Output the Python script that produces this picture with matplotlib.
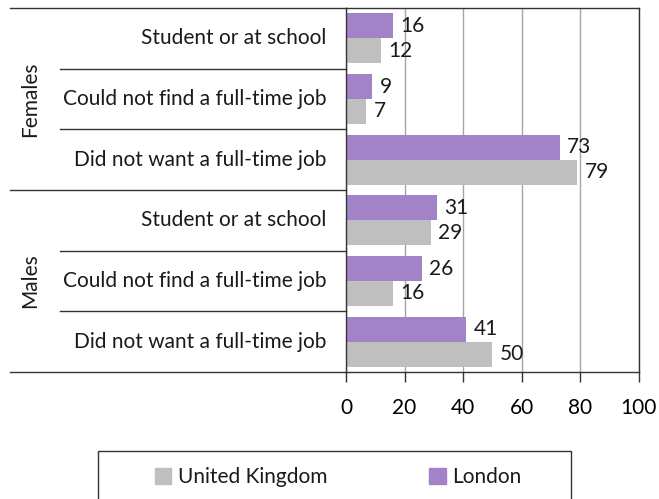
import matplotlib
matplotlib.use("Agg")
import matplotlib.pyplot as plt
import matplotlib.transforms as mtransforms
from matplotlib.patches import Patch, Rectangle
import numpy as np

plt.rcParams["font.family"] = ["Lato", "DejaVu Sans"]
plt.rcParams["text.color"] = "#1a1a1a"

# Data (top to bottom)
groups = ["Females", "Males"]
categories = [
    "Student or at school",
    "Could not find a full-time job",
    "Did not want a full-time job",
]
london = [16, 9, 73, 31, 26, 41]
uk = [12, 7, 79, 29, 16, 50]
x_ticks = [0, 20, 40, 60, 80, 100]

purple = "#a283c7"
grey = "#bfbfbf"
fs = 15

fig = plt.figure(figsize=(6.59, 4.99), dpi=100)
ax = fig.add_axes([0.525, 0.2545, 0.4445, 0.7295])

labels = categories * len(groups)
y = np.arange(len(labels))
h = 0.41
ax.barh(y - h / 2, london, height=h, color=purple)
ax.barh(y + h / 2, uk, height=h, color=grey)

for yi, v in zip(y, london):
    ax.text(v + 2.5, yi - h / 2, str(v), va="center", ha="left", fontsize=fs)
for yi, v in zip(y, uk):
    ax.text(v + 2.5, yi + h / 2, str(v), va="center", ha="left", fontsize=fs)

ax.set_xlim(0, 100)
ax.set_ylim(len(labels) - 0.5, -0.5)
ax.set_xticks(x_ticks)
ax.set_xticklabels([str(t) for t in x_ticks], fontsize=fs)
ax.tick_params(axis="x", direction="out", length=7, width=1, color="#333333", pad=12)
ax.set_yticks([])
ax.xaxis.grid(True, color="#a6a6a6", linewidth=1)
ax.set_axisbelow(True)
for s in ax.spines.values():
    s.set_color("#333333")
    s.set_linewidth(1)

# category labels and separator lines on the left
trans = mtransforms.blended_transform_factory(ax.transAxes, ax.transData)
for yi, lab in zip(y, labels):
    ax.text(-0.068, yi, lab, transform=trans, ha="right", va="center", fontsize=fs)

n = len(categories)
for k in range(len(labels) + 1):
    yb = k - 0.5
    x0 = -1.147 if k % n == 0 else -0.976
    ax.plot([x0, 0], [yb, yb], transform=trans, color="#333333", lw=1, clip_on=False)

for gi, g in enumerate(groups):
    yc = gi * n + (n - 1) / 2
    ax.text(-1.078, yc, g, transform=trans, rotation=90, ha="center", va="center", fontsize=fs)

# legend box running off the bottom edge
fig.patches.append(Rectangle((98 / 659, -0.1), 473 / 659, 0.1 + 48 / 499,
                             transform=fig.transFigure, fill=False,
                             edgecolor="#333333", linewidth=1))
handles = [Patch(color=grey, label="United Kingdom"), Patch(color=purple, label="London")]
fig.legend(handles=handles, loc="center", bbox_to_anchor=(0.513, 1 - 477 / 499), ncol=2,
           frameon=False, fontsize=fs, handlelength=0.8, handleheight=0.8,
           handletextpad=0.3, columnspacing=4.9)

fig.savefig("out.png", dpi=100)
